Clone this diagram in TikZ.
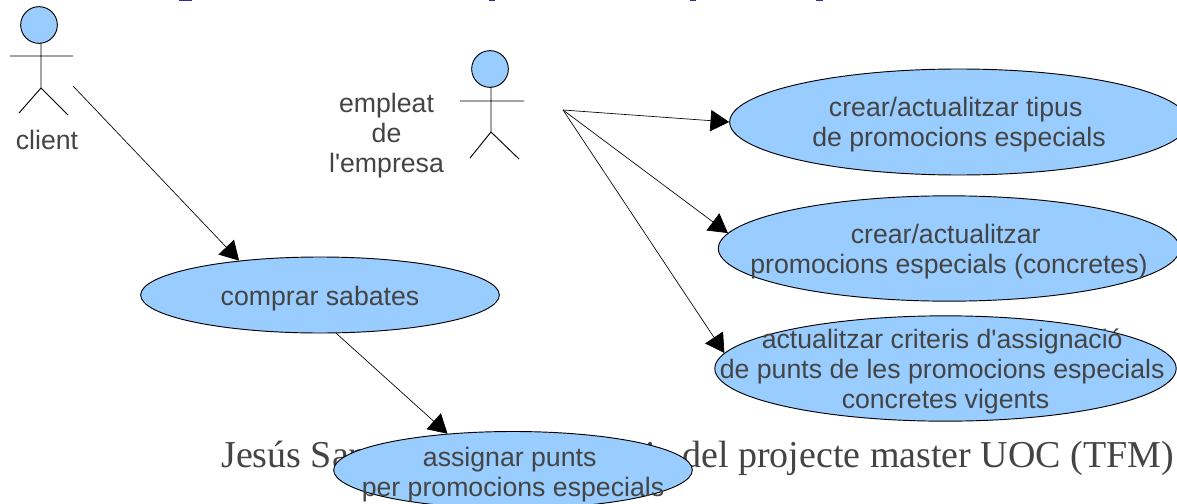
\documentclass[tikz,border=0pt]{standalone}
\usepackage{fontspec}
\setmainfont{Liberation Serif}
\setsansfont{Liberation Sans}
\usetikzlibrary{shapes.geometric,arrows.meta}
\definecolor{casefill}{HTML}{99CCFF}
\definecolor{labelgray}{HTML}{444444}
\definecolor{titleblue}{HTML}{2E2E9E}
\tikzset{
    usecase/.style={draw, ellipse, line width=.7pt, fill=casefill, inner sep=-60pt, align=center, font=\sffamily\fontsize{20}{22.5}\selectfont, text=labelgray, execute at begin node={\rule{0pt}{#1}}},
    usecase/.default=41.5pt,
    actorlabel/.style={align=center, inner sep=0pt, font=\sffamily\fontsize{20}{22.5}\selectfont, text=labelgray},
    actorhead/.style={draw, circle, line width=.7pt, fill=casefill, inner sep=0pt, minimum size=27.5pt},
    actorbody/.style={line width=.7pt},
    assoc/.style={-{Triangle[length=14pt,width=16pt]}, line width=.5pt}
}
\begin{document}
\begin{tikzpicture}[x=.75pt, y=-.75pt]
\useasboundingbox (0,0) rectangle (1177,503);

% footer sits under the use cases, title is cut off at the top
\node[anchor=base west, inner sep=0pt, text=labelgray, font=\fontsize{28.5}{30}\selectfont] (footer) at (221,467) {Jesús San\hspace{198.5pt}ria del projecte master UOC (TFM)};
\fill[titleblue] (179,0) rectangle (192,1.5);
\fill[titleblue] (489,0) rectangle (495,1.5);
\fill[titleblue] (690,0) rectangle (696,1.5);
\fill[titleblue] (816,0) rectangle (823,1.5);

% actors
\node[actorhead] (clienthead) at (39,25) {};
\coordinate (clientneck) at (41,43);
\coordinate (clienthip) at (41,88);
\coordinate (clientl) at (10,56);
\coordinate (clientr) at (73,56);
\coordinate (clientfl) at (19,113);
\coordinate (clientfr) at (68,115);
\draw[actorbody] (clientneck) -- (clienthip) (clientl) -- (clientr) (clientfl) -- (clienthip) -- (clientfr);
\node[actorlabel] (client) at (47,140) {client};

\node[actorhead] (empleathead) at (490,69) {};
\coordinate (empleatneck) at (491,87);
\coordinate (empleathip) at (491,132);
\coordinate (empleatl) at (460,101);
\coordinate (empleatr) at (524,101);
\coordinate (empleatfl) at (470,158);
\coordinate (empleatfr) at (519,159);
\draw[actorbody] (empleatneck) -- (empleathip) (empleatl) -- (empleatr) (empleatfl) -- (empleathip) -- (empleatfr);
\node[actorlabel] (empleat) at (386.5,136) {empleat\\de\\l\textquotesingle empresa};

% use cases
\node[usecase=20pt, minimum width=269pt, minimum height=57pt] (comprar) at (320,295) {comprar sabates};
\node[usecase=44.5pt, minimum width=269pt, minimum height=57.75pt] (assignar) at (513,470) {assignar punts\kern5pt\\per promocions especials};
\node[usecase, minimum width=344pt, minimum height=79.5pt] (tipus) at (959,122) {crear/actualitzar tipus\kern5pt\\de promocions especials};
\node[usecase, minimum width=346pt, minimum height=79pt] (promo) at (949,248.5) {crear/actualitzar\kern5pt\\promocions especials (concretes)};
\node[usecase=64pt, minimum width=346pt, minimum height=79pt] (criteris) at (945.5,368.5) {actualitzar criteris d\textquotesingle assignació\kern5pt\\de punts de les promocions especials\kern5pt\\concretes vigents};

% connectors
\coordinate (clientfrom) at (73,86);
\coordinate (empleatfrom) at (563,110);
\draw[assoc] (clientfrom) -- (comprar.157);
\draw[assoc] (comprar.293) -- (assignar.151);
\draw[assoc] (empleatfrom) -- (tipus.west);
\draw[assoc] (empleatfrom) -- (promo.176);
\draw[assoc] (empleatfrom) -- (criteris.176);
\end{tikzpicture}
\end{document}
